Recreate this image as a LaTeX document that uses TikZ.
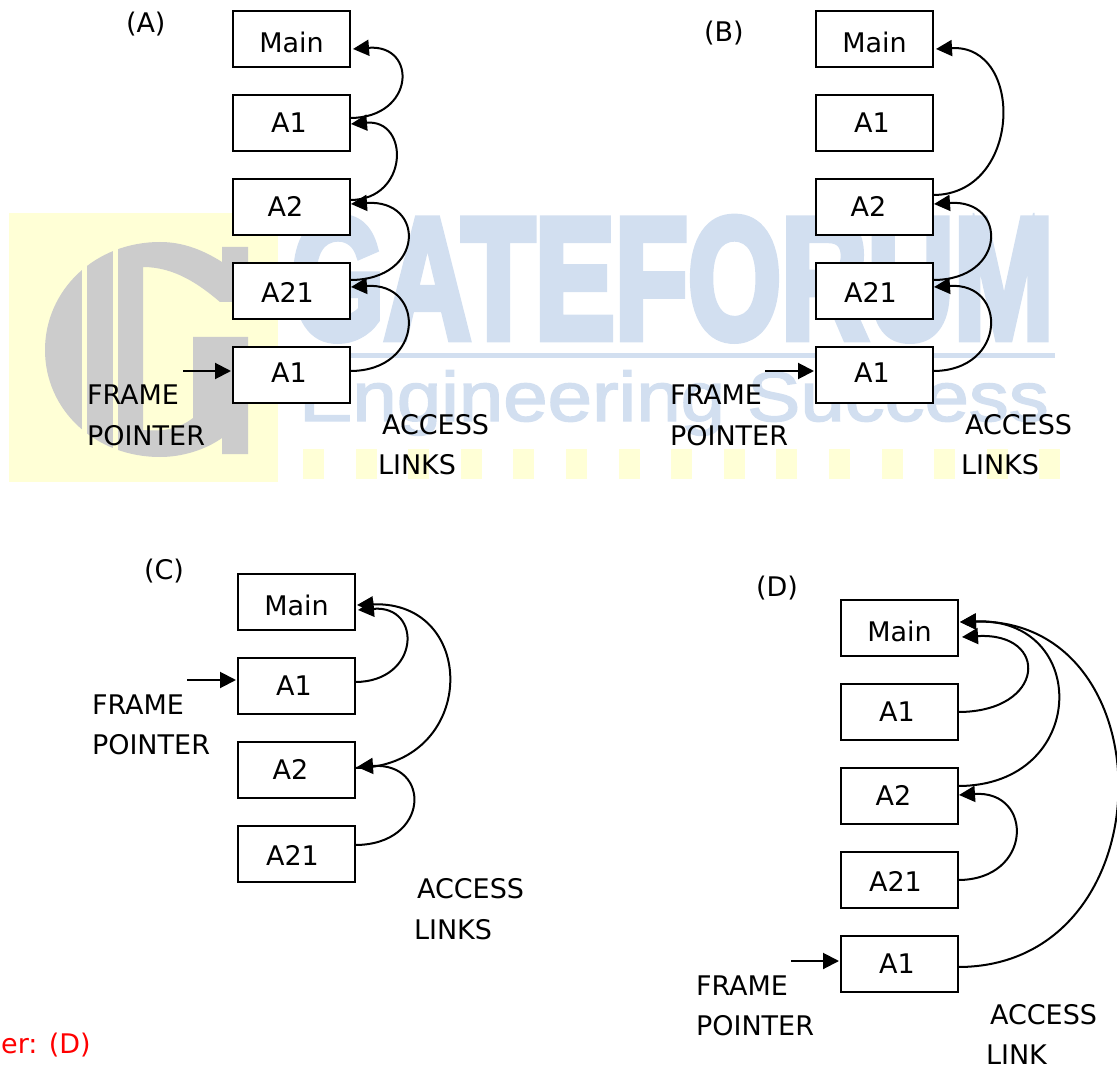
\documentclass[tikz,border=0pt]{standalone}
\usepackage{fontspec}
\setmainfont{DejaVu Sans}
\newfontfamily\wmheavy{Liberation Sans Bold}[FakeBold=5]
\newfontfamily\wmlight{Liberation Sans}[FakeBold=2]
\usetikzlibrary{arrows.meta}
\definecolor{wmyellow}{HTML}{FFFFD6}
\definecolor{wmgray}{HTML}{CCCCCC}
\definecolor{wmblue}{HTML}{D2DFF0}
\tikzset{
  frame/.style={draw=black,line width=1.8pt,fill=white,minimum width=117pt,minimum height=56pt,inner sep=0pt,outer sep=0pt},
  lab/.style={anchor=base west,inner sep=0pt,outer sep=0pt},
  link/.style={draw=black,line width=2pt,-{Triangle[length=16pt,width=16pt]}},
  yellowbar/.style={fill=wmyellow,draw=none}
}
\newcommand{\BT}[3]{\makebox[0pt]{\hspace*{#1pt}\raisebox{#2pt}[0pt][0pt]{#3}}}
\newcommand{\humpto}[6]{\draw[link] ([yshift=#2pt]#1.east) .. controls +(#6,0) and +(#6,-5) .. ([xshift=#4pt,yshift=#5pt]#3.east);}
\begin{document}
\begin{tikzpicture}[x=1pt,y=-1pt,font=\fontsize{27}{32}\selectfont]
\useasboundingbox (0,0) rectangle (1117,1067);
% watermark
\fill[wmyellow] (9,213) rectangle (278,482);
\fill[wmgray] (248,247) -- (222,247) -- (222,262) .. controls (200,248) and (180,242) .. (160,242)
  .. controls (95,242) and (45,290) .. (45,350) .. controls (45,410) and (95,457) .. (160,457)
  .. controls (182,457) and (205,450) .. (222,438) -- (222,454) -- (248,454) -- (248,337) -- (193,337)
  -- (193,418) .. controls (180,428) and (165,432) .. (143,430) -- (143,267)
  .. controls (175,267) and (200,285) .. (220,302) -- (248,302) -- cycle;
\fill[wmyellow] (82,235) rectangle (87,465);
\fill[wmyellow] (113,235) rectangle (118,465);
\begin{scope}
\clip (280,207) -- (960,207) -- (960,213) -- (1060,213) -- (1060,346) -- (280,346) -- cycle;
\node[anchor=base west,inner sep=0pt,text=wmblue,xscale=.696,font=\wmheavy\fontsize{172}{172}\selectfont] (wmtitle) at (291,338) {GATEFORUM};
\end{scope}
\fill[wmblue] (295,353) rectangle (1055,358);
\node[anchor=base west,inner sep=0pt,text=wmblue,xscale=1.14,font=\wmlight\fontsize{70}{70}\selectfont] (wmsub) at (299,421) {Engineering Success};
\foreach \k in {0,...,14} \fill[yellowbar] ({303+52.6*\k},449) rectangle ({324+52.6*\k},479);
% panel A
\node[frame] (am) at (291.5,39) {\BT{0}{-13.5}{Main}};
\node[frame] (aa) at (291.5,123) {\BT{-5}{-9.5}{A1}};
\node[frame] (ab) at (291.5,207) {\BT{-12}{-9.5}{A2}};
\node[frame] (ac) at (291.5,291) {\BT{-8}{-11.5}{A21}};
\node[frame] (ad) at (291.5,375) {\BT{-5}{-7.5}{A1}};
\humpto{aa}{5}{am}{3}{-10}{65}
\humpto{ab}{7}{aa}{1}{-1}{59}
\humpto{ac}{11}{ab}{1}{3}{75}
\humpto{ad}{4}{ac}{1}{4}{75}
\coordinate (afp) at (183,371);
\draw[link] (afp) -- ([xshift=-2pt,yshift=4pt]ad.west);
\node[lab] (tA) at (126,33) {(A)};
\node[lab] (afr) at (87,405) {FRAME};
\node[lab] (apo) at (87,445) {POINTER};
\node[lab] (aac) at (382,434) {ACCESS};
\node[lab] (ali) at (378,474) {LINKS};
% panel B
\node[frame] (bm) at (874.5,39) {\BT{0}{-13.5}{Main}};
\node[frame] (ba) at (874.5,123) {\BT{-5}{-9.5}{A1}};
\node[frame] (bb) at (874.5,207) {\BT{-12}{-9.5}{A2}};
\node[frame] (bc) at (874.5,291) {\BT{-8}{-11.5}{A21}};
\node[frame] (bd) at (874.5,375) {\BT{-5}{-7.5}{A1}};
\humpto{bb}{12}{bm}{3}{-10}{89}
\humpto{bc}{11}{bb}{1}{3}{74}
\humpto{bd}{4}{bc}{1}{4}{74}
\coordinate (bfp) at (765,371);
\draw[link] (bfp) -- ([xshift=-2pt,yshift=4pt]bd.west);
\node[lab] (tB) at (704,42) {(B)};
\node[lab] (bfr) at (670,405) {FRAME};
\node[lab] (bpo) at (670,445) {POINTER};
\node[lab] (bac) at (965,434) {ACCESS};
\node[lab] (bli) at (961,474) {LINKS};
% panel C
\node[frame] (cm) at (296.5,602) {\BT{0}{-13.5}{Main}};
\node[frame] (ca) at (296.5,686) {\BT{-5}{-9.5}{A1}};
\node[frame] (cb) at (296.5,770) {\BT{-12}{-9.5}{A2}};
\node[frame] (cc) at (296.5,854) {\BT{-8}{-11.5}{A21}};
\humpto{ca}{4}{cm}{3}{-8}{65}
\humpto{cb}{2}{cm}{2}{-3}{123}
\humpto{cc}{9}{cb}{2}{3}{75}
\coordinate (cfp) at (187,680);
\draw[link] (cfp) -- ([xshift=-2pt,yshift=6pt]ca.west);
\node[lab] (tC) at (144,579) {(C)};
\node[lab] (cfr) at (92,714) {FRAME};
\node[lab] (cpo) at (92,754) {POINTER};
\node[lab] (cac) at (417,898) {ACCESS};
\node[lab] (cli) at (414,939) {LINKS};
% panel D
\node[frame] (dm) at (899.5,628) {\BT{0}{-13.5}{Main}};
\node[frame] (da) at (899.5,712) {\BT{-5}{-9.5}{A1}};
\node[frame] (db) at (899.5,796) {\BT{-12}{-9.5}{A2}};
\node[frame] (dc) at (899.5,880) {\BT{-8}{-11.5}{A21}};
\node[frame] (dd) at (899.5,964) {\BT{-5}{-9.5}{A1}};
\humpto{da}{0}{dm}{4}{-9}{88}
\humpto{db}{10}{dm}{2}{6}{131}
\humpto{dc}{0}{db}{1}{1}{75}
\humpto{dd}{-3}{dm}{2}{6}{210}
\coordinate (dfp) at (791,961);
\draw[link] (dfp) -- ([xshift=-2pt,yshift=3pt]dd.west);
\node[lab] (tD) at (756,596) {(D)};
\node[lab] (dfr) at (696,995) {FRAME};
\node[lab] (dpo) at (696,1035) {POINTER};
\node[lab] (dac) at (990,1024) {ACCESS};
\node[lab] (dli) at (986,1064) {LINK};
% answer
\node[anchor=base east,inner sep=0pt,text=red] (ans) at (91,1053) {er: (D)};
\end{tikzpicture}
\end{document}
